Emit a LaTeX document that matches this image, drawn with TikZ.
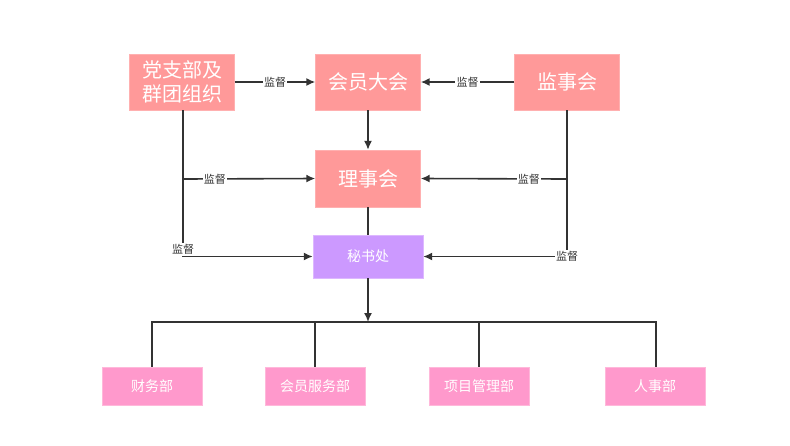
\documentclass[tikz,border=0pt]{standalone}
\usepackage{fontspec}
\setmainfont{Noto Sans CJK SC}
\usetikzlibrary{arrows.meta}
\definecolor{boxred}{HTML}{FF9999}
\definecolor{boxredb}{HTML}{FFB0B0}
\definecolor{boxpink}{HTML}{FF99CC}
\definecolor{boxpinkb}{HTML}{FFB8DA}
\definecolor{boxpurple}{HTML}{CC99FF}
\definecolor{boxpurpleb}{HTML}{DDB8FF}
\definecolor{linegray}{HTML}{333333}
\tikzset{
  bigbox/.style={draw=boxredb, fill=boxred, text=white, inner sep=0pt,
    minimum width=105pt, minimum height=56pt, align=center,
    font=\fontsize{20}{24}\selectfont},
  secbox/.style={draw=boxpurpleb, fill=boxpurple, text=white, inner sep=0pt,
    minimum width=110pt, minimum height=43pt, font=\fontsize{14}{16}\selectfont},
  depbox/.style={draw=boxpinkb, fill=boxpink, text=white, inner sep=0pt,
    minimum width=100pt, minimum height=38pt, font=\fontsize{14}{16}\selectfont},
  lbl/.style={fill=white, text=linegray, inner sep=1.2pt, font=\fontsize{11}{12}\selectfont},
  conn/.style={draw=linegray, line width=1.6pt},
  arr/.style={conn, -{Latex[length=9pt,width=8pt]}}
}
\begin{document}
\begin{tikzpicture}[x=1pt,y=-1pt]
\useasboundingbox (0,0) rectangle (790,445);
\node[bigbox] (dang) at (182,82) {党支部及\\群团组织};
\node[bigbox] (hy) at (368,82) {会员大会};
\node[bigbox] (js) at (567,82) {监事会};
\node[bigbox, minimum height=57pt] (ls) at (368,178.5) {理事会};
\node[secbox] (ms) at (368,256.5) {秘书处};
\node[depbox] (cw) at (152,386) {财务部};
\node[depbox] (hyfw) at (315,386) {会员服务部};
\node[depbox] (xm) at (479,386) {项目管理部};
\node[depbox] (rs) at (655,386) {人事部};

\coordinate (lb) at (183,179);
\coordinate (rb) at (567,179);
\coordinate (busL) at (152,322);
\coordinate (busR) at (656,322);
\coordinate (busM) at (368,322);

\draw[arr] (dang.east) -- node[lbl]{监督} (hy.west);
\draw[arr] (js.west) -- node[lbl]{监督} (hy.east);
\draw[arr] (hy.south) -- (ls.north);
\draw[arr] (dang.south -| lb) |- node[lbl, pos=0.5, yshift=7pt]{监督} (ms.west);
\draw[arr] (lb) -- node[lbl, pos=0.24]{监督} (ls.west);
\draw[arr] (js.south) |- node[lbl, pos=0.5]{监督} (ms.east);
\draw[arr] (rb) -- node[lbl, pos=0.26]{监督} (ls.east);
\draw[conn] (ls.south) -- (ms.north);
\draw[arr] (ms.south) -- (busM);
\draw[conn] (cw.north) -- (busL) -- (busR) -- (rs.north -| busR);
\draw[conn] (hyfw.north) -- (hyfw.north |- busL);
\draw[conn] (xm.north) -- (xm.north |- busL);
\end{tikzpicture}
\end{document}
